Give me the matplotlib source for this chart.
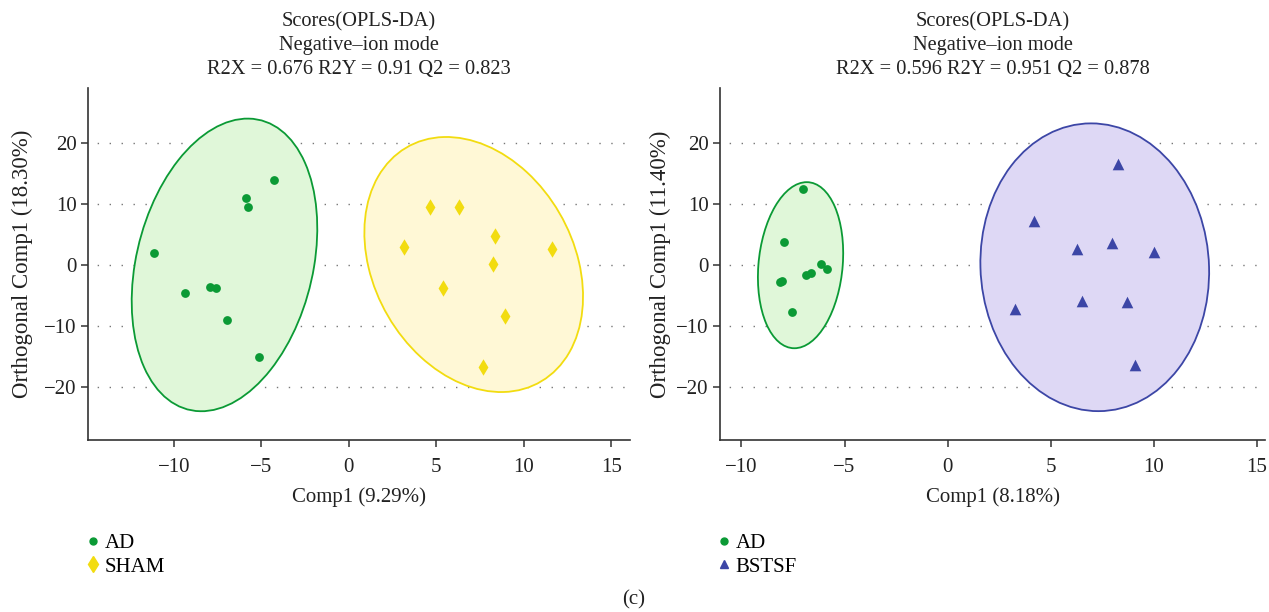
import numpy as np
import matplotlib
matplotlib.use("Agg")
import matplotlib.pyplot as plt
from matplotlib.patches import Ellipse
from matplotlib.lines import Line2D

plt.rcParams["font.family"] = ["Liberation Serif", "DejaVu Serif"]
plt.rcParams["font.size"] = 15

# left panel: AD vs SHAM
ad1_x   = [-11.1, -9.38, -7.93, -7.56, -5.86, -5.74, -4.25, -6.95, -5.13]
ad1_y   = [2.0, -4.6, -3.66, -3.83, 11.0, 9.5, 13.9, -9.1, -15.1]
sham_x  = [3.13, 4.62, 6.3, 8.37, 8.21, 11.6, 5.41, 8.91, 7.67]
sham_y  = [3.0, 9.56, 9.46, 4.75, 0.16, 2.57, -3.7, -8.3, -16.8]

# right panel: AD vs BSTSF
ad2_x   = [-7.0, -7.96, -6.13, -5.86, -6.85, -6.65, -8.15, -8.05, -7.57]
ad2_y   = [12.4, 3.83, 0.16, -0.6, -1.57, -1.35, -2.86, -2.59, -7.72]
bst_x   = [8.24, 4.2, 6.28, 7.95, 10.01, 3.25, 6.51, 8.68, 9.06]
bst_y   = [16.6, 7.2, 2.7, 3.65, 2.05, -7.2, -5.9, -6.05, -16.4]

titles  = ["Scores(OPLS-DA)\nNegative\u2013ion mode\nR2X = 0.676 R2Y = 0.91 Q2 = 0.823",
           "Scores(OPLS-DA)\nNegative\u2013ion mode\nR2X = 0.596 R2Y = 0.951 Q2 = 0.878"]
xlabels = ["Comp1 (9.29%)", "Comp1 (8.18%)"]
ylabels = ["Orthogonal Comp1 (18.30%)", "Orthogonal Comp1 (11.40%)"]
xticks  = [-10, -5, 0, 5, 10, 15]
yticks  = [-20, -10, 0, 10, 20]

GREEN, GREEN_FILL = "#0b9a35", "#e0f7d9"
YELLOW, YELLOW_FILL = "#f2dc10", "#fff8d6"
BLUE, BLUE_FILL = "#3c46a6", "#ded8f5"
TXT = "#222222"
CHI2_95 = 5.991


def conf_ellipse(ax, x, y, edge, fill):
    x, y = np.asarray(x), np.asarray(y)
    cov = np.cov(x, y) * CHI2_95
    vals, vecs = np.linalg.eigh(cov)
    angle = np.degrees(np.arctan2(vecs[1, 1], vecs[0, 1]))
    ell = Ellipse((x.mean(), y.mean()), 2 * np.sqrt(vals[1]), 2 * np.sqrt(vals[0]),
                  angle=angle, facecolor=fill, edgecolor=edge, lw=1.3, zorder=1)
    ax.add_patch(ell)


def style_axes(ax, i, xlim, ypad):
    ax.set_xlim(*xlim)
    ax.set_ylim(-28.7, 29.0)
    ax.set_xticks(xticks)
    ax.set_yticks(yticks)
    ax.set_xticklabels([f"{t:d}".replace("-", "\u2212") for t in xticks])
    ax.set_yticklabels([f"{t:d}".replace("-", "\u2212") for t in yticks])
    for s in ["top", "right"]:
        ax.spines[s].set_visible(False)
    for s in ["left", "bottom"]:
        ax.spines[s].set_linewidth(1.2)
        ax.spines[s].set_color("#333333")
    ax.tick_params(direction="out", length=5, width=1.1, colors="#333333",
                   labelcolor=TXT, labelsize=15, pad=3)
    ax.tick_params(axis="x", pad=8)
    for t in yticks:
        ax.axhline(t, color="#777777", lw=1.0, ls=(2, (1, 7.6)), zorder=0.5)
    ax.set_title(titles[i], fontsize=14.7, linespacing=1.36, pad=10, color=TXT)
    ax.set_xlabel(xlabels[i], fontsize=15, color=TXT, labelpad=7)
    ax.set_ylabel(ylabels[i], fontsize=16.5, color=TXT, labelpad=ypad)


fig = plt.figure(figsize=(12.69, 6.12), dpi=100)
ax1 = fig.add_axes([0.0693, 0.281, 0.4271, 0.575])
ax2 = fig.add_axes([0.5674, 0.281, 0.4295, 0.575])

conf_ellipse(ax1, ad1_x, ad1_y, GREEN, GREEN_FILL)
conf_ellipse(ax1, sham_x, sham_y, YELLOW, YELLOW_FILL)
ax1.scatter(ad1_x, ad1_y, s=40, marker="o", color=GREEN, zorder=3, linewidths=0)
ax1.scatter(sham_x, sham_y, s=70, marker="d", color=YELLOW, zorder=3, linewidths=0)
style_axes(ax1, 0, (-14.9, 16.06), 8)

conf_ellipse(ax2, ad2_x, ad2_y, GREEN, GREEN_FILL)
conf_ellipse(ax2, bst_x, bst_y, BLUE, BLUE_FILL)
ax2.scatter(ad2_x, ad2_y, s=40, marker="o", color=GREEN, zorder=3, linewidths=0)
ax2.scatter(bst_x, bst_y, s=70, marker="^", color=BLUE, zorder=3, linewidths=0)
style_axes(ax2, 1, (-11.04, 15.39), 4)

h_ad = Line2D([], [], ls="none", marker="o", ms=5, color=GREEN)
h_sham = Line2D([], [], ls="none", marker="d", ms=8, color=YELLOW)
h_bst = Line2D([], [], ls="none", marker="^", ms=6, color=BLUE)
leg_kw = dict(frameon=False, fontsize=15, handlelength=0.8, handletextpad=0.15,
              labelspacing=0.2, borderaxespad=0)
fig.legend([h_ad, h_sham], ["AD", "SHAM"], loc="upper left",
           bbox_to_anchor=(0.0605, 0.142), **leg_kw)
fig.legend([h_ad, h_bst], ["AD", "BSTSF"], loc="upper left",
           bbox_to_anchor=(0.5573, 0.142), **leg_kw)
fig.text(0.4996, 0.02, "(c)", ha="center", va="center", fontsize=15, color=TXT)

fig.savefig("out.png", dpi=100)
